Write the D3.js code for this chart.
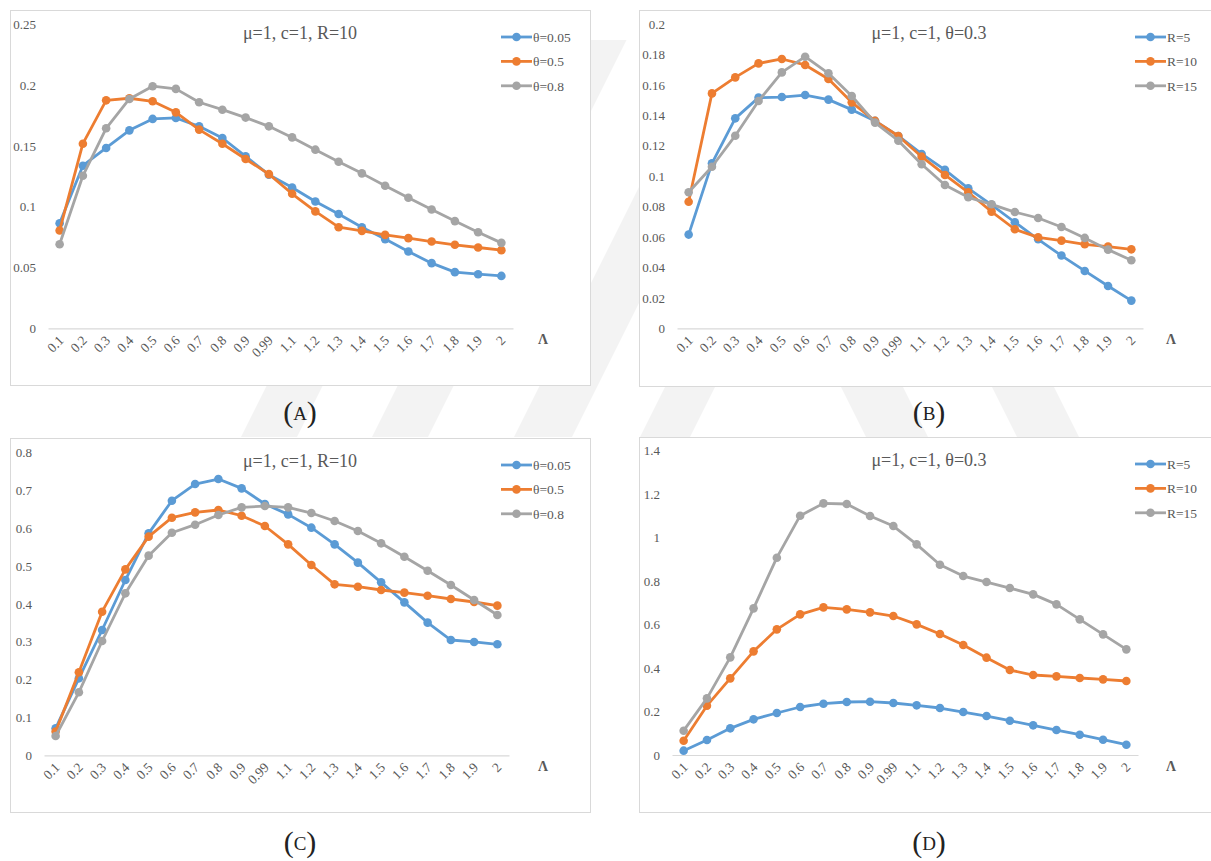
<!DOCTYPE html>
<html>
<head>
<meta charset="utf-8">
<script src="https://cdn.jsdelivr.net/npm/d3@7"></script>
<style>
  html, body { margin: 0; padding: 0; background: #fff; }
  svg { display: block; }
</style>
</head>
<body>
<svg id="fig" width="1211" height="861"></svg>
<script>
// Λ values shared by all four panels
const categories = ["0.1","0.2","0.3","0.4","0.5","0.6","0.7","0.8","0.9","0.99",
                    "1.1","1.2","1.3","1.4","1.5","1.6","1.7","1.8","1.9","2"];

const thetaNames = ["θ=0.05", "θ=0.5", "θ=0.8"];
const rNames = ["R=5", "R=10", "R=15"];

// y-axis tick values per panel
const ticksA = [0, 0.05, 0.1, 0.15, 0.2, 0.25];
const ticksB = [0, 0.02, 0.04, 0.06, 0.08, 0.1, 0.12, 0.14, 0.16, 0.18, 0.2];
const ticksC = [0, 0.1, 0.2, 0.3, 0.4, 0.5, 0.6, 0.7, 0.8];
const ticksD = [0, 0.2, 0.4, 0.6, 0.8, 1, 1.2, 1.4];

// (A) μ=1, c=1, R=10
const aTheta005 = [0.0865,0.1338,0.1484,0.1629,0.1723,0.1731,0.1662,0.1566,0.1415,0.1264,
                   0.1159,0.1044,0.0940,0.0832,0.0734,0.0632,0.0536,0.0462,0.0445,0.0431];
const aTheta05  = [0.0805,0.1519,0.1876,0.1893,0.1868,0.1777,0.1635,0.1519,0.1393,0.1269,
                   0.1107,0.0962,0.0832,0.0802,0.0769,0.0742,0.0714,0.0687,0.0665,0.0643];
const aTheta08  = [0.0692,0.1255,0.1646,0.1887,0.1992,0.1970,0.1860,0.1799,0.1734,0.1662,
                   0.1571,0.1470,0.1371,0.1275,0.1173,0.1074,0.0978,0.0882,0.0791,0.0703];

// (B) μ=1, c=1, θ=0.3
const bR5  = [0.0616,0.1084,0.1380,0.1516,0.1520,0.1533,0.1503,0.1437,0.1363,0.1264,
              0.1146,0.1041,0.0920,0.0811,0.0697,0.0585,0.0478,0.0377,0.0278,0.0182];
const bR10 = [0.0832,0.1544,0.1649,0.1741,0.1770,0.1731,0.1639,0.1485,0.1363,0.1264,
              0.1128,0.1008,0.0894,0.0767,0.0651,0.0598,0.0576,0.0552,0.0537,0.0519];
const bR15 = [0.0894,0.1062,0.1266,0.1494,0.1682,0.1785,0.1676,0.1527,0.1352,0.1233,
              0.1078,0.0942,0.0861,0.0815,0.0764,0.0725,0.0666,0.0594,0.0517,0.0447];

// (C) μ=1, c=1, R=10
const cTheta005 = [0.0714,0.2035,0.3313,0.4634,0.5868,0.6731,0.7172,0.7304,0.7057,0.6643,
                   0.6370,0.6018,0.5577,0.5093,0.4573,0.4044,0.3507,0.3048,0.2996,0.2934];
const cTheta05  = [0.0626,0.2194,0.3797,0.4916,0.5780,0.6282,0.6423,0.6485,0.6335,0.6062,
                   0.5577,0.5031,0.4520,0.4458,0.4370,0.4300,0.4220,0.4132,0.4053,0.3956];
const cTheta08  = [0.0511,0.1665,0.3022,0.4282,0.5278,0.5885,0.6097,0.6352,0.6555,0.6590,
                   0.6555,0.6405,0.6194,0.5930,0.5604,0.5251,0.4881,0.4502,0.4106,0.3709];

// (D) μ=1, c=1, θ=0.3
const dR5  = [0.0199,0.0690,0.1227,0.1641,0.1932,0.2208,0.2361,0.2438,0.2453,0.2392,
              0.2285,0.2162,0.1978,0.1794,0.1579,0.1365,0.1150,0.0935,0.0705,0.0475];
const dR10 = [0.0659,0.2269,0.3527,0.4769,0.5781,0.6471,0.6793,0.6701,0.6563,0.6394,
              0.6011,0.5566,0.5060,0.4478,0.3910,0.3680,0.3619,0.3542,0.3481,0.3404];
const dR15 = [0.1119,0.2607,0.4493,0.6747,0.9078,1.1010,1.1577,1.1547,1.0994,1.0534,
              0.9691,0.8756,0.8234,0.7958,0.7682,0.7391,0.6931,0.6241,0.5551,0.4861];

const seriesColors = ["#5B9BD5", "#ED7D31", "#A5A5A5"];
const textColor = "#595959";
const gridColor = "#d9d9d9";
const serif = "'Liberation Serif'";

const svg = d3.select("#fig");

// faint diagonal background emblem, visible only between the panels
const wm = svg.append("g").attr("fill", "#f3f3f3");
wm.append("clipPath").attr("id", "wmclip")
  .append("rect").attr("x", 0).attr("y", 40).attr("width", 1211).attr("height", 397);
const wmg = wm.append("g").attr("clip-path", "url(#wmclip)");
function stripe(cx, w, slope) {
  // parallelogram centred on (cx, 411), leaning by `slope` px of x per px of y
  const y1 = -100, y2 = 900, yc = 411;
  const xTop = cx + slope * (yc - y1), xBot = cx - slope * (y2 - yc);
  return [[xTop - w / 2, y1], [xTop + w / 2, y1], [xBot + w / 2, y2], [xBot - w / 2, y2]];
}
[[282, 56, 0.5], [413, 56, 0.5], [556, 58, 0.5], [678, 50, 0.5],
 [884, 62, -0.5], [1035, 62, -0.5]].forEach(([cx, w, s]) => {
  wmg.append("polygon").attr("points", stripe(cx, w, s).map(p => p.join(",")).join(" "));
});

const panels = [
  { box: [10, 10, 590, 385], xr: [48, 513], yr: [328.3, 24.5], ticks: ticksA,
    title: "μ=1, c=1, R=10", titleX: 300, names: thetaNames, data: [aTheta005, aTheta05, aTheta08],
    legendX: 501, lambdaX: 543, caption: "A", capX: 300, capY: 413 },
  { box: [639, 10, 1222, 386], xr: [677, 1143], yr: [328.3, 24], ticks: ticksB,
    title: "μ=1, c=1, θ=0.3", titleX: 929, names: rNames, data: [bR5, bR10, bR15],
    legendX: 1135, lambdaX: 1171, caption: "B", capX: 929, capY: 413 },
  { box: [10, 438, 590, 812], xr: [44, 509], yr: [755.3, 452.7], ticks: ticksC,
    title: "μ=1, c=1, R=10", titleX: 300, names: thetaNames, data: [cTheta005, cTheta05, cTheta08],
    legendX: 501, lambdaX: 543, caption: "C", capX: 300, capY: 843 },
  { box: [639, 437, 1222, 812], xr: [672, 1138], yr: [755, 450.7], ticks: ticksD,
    title: "μ=1, c=1, θ=0.3", titleX: 929, names: rNames, data: [dR5, dR10, dR15],
    legendX: 1135, lambdaX: 1171, caption: "D", capX: 929, capY: 843 }
];

function styleText(sel, size) {
  return sel.style("font-family", serif).style("font-size", size + "px");
}

panels.forEach(p => {
  const g = svg.append("g");
  const [bx0, by0, bx1, by1] = p.box;

  // chart frame
  g.append("rect")
    .attr("x", bx0 + 0.5).attr("y", by0 + 0.5)
    .attr("width", bx1 - bx0).attr("height", by1 - by0)
    .attr("fill", "#fff").attr("stroke", gridColor).attr("stroke-width", 1);

  const x = d3.scaleBand().domain(categories).range(p.xr);
  const cx = d => x(d) + x.bandwidth() / 2;
  const y = d3.scaleLinear().domain([0, d3.max(p.ticks)]).range(p.yr);

  // category axis
  const xAxis = g.append("g").attr("transform", `translate(0,${p.yr[0]})`)
    .call(d3.axisBottom(x).tickSize(0).tickPadding(0));
  xAxis.attr("font-family", null).attr("font-size", null);
  xAxis.select(".domain").attr("stroke", gridColor).attr("stroke-width", 1.2);
  styleText(xAxis.selectAll(".tick text"), 13.5)
    .attr("fill", textColor)
    .attr("text-anchor", "end")
    .attr("dy", 0)
    .attr("y", 0)
    .attr("transform", "translate(5,13) rotate(-45)");

  // value axis: labels only
  const yAxis = g.append("g").attr("transform", `translate(${p.xr[0]},0)`)
    .call(d3.axisLeft(y).tickValues(p.ticks).tickSize(0).tickPadding(12)
      .tickFormat(v => String(+v.toFixed(2))));
  yAxis.attr("font-family", null).attr("font-size", null);
  yAxis.select(".domain").remove();
  styleText(yAxis.selectAll(".tick text"), 13).attr("fill", textColor);

  // axis name
  styleText(g.append("text"), 14)
    .attr("x", p.lambdaX).attr("y", p.yr[0] + 16)
    .attr("text-anchor", "middle").attr("font-weight", "bold")
    .attr("fill", textColor).text("Λ");

  // title
  styleText(g.append("text"), 18)
    .attr("x", p.titleX).attr("y", by0 + 29)
    .attr("text-anchor", "middle").attr("fill", textColor)
    .text(p.title);

  // series
  const line = d3.line().x((d, i) => cx(categories[i])).y(d => y(d));
  p.data.forEach((vals, si) => {
    const sg = g.append("g");
    sg.append("path").datum(vals).attr("d", line)
      .attr("fill", "none").attr("stroke", seriesColors[si])
      .attr("stroke-width", 2.8).attr("stroke-linejoin", "round").attr("stroke-linecap", "round");
    sg.selectAll("circle").data(vals).join("circle")
      .attr("cx", (d, i) => cx(categories[i])).attr("cy", d => y(d))
      .attr("r", 4.3).attr("fill", seriesColors[si]);
  });

  // legend
  p.names.forEach((name, i) => {
    const ly = by0 + 27 + 24.4 * i;
    const lg = g.append("g");
    lg.append("line").attr("x1", p.legendX).attr("x2", p.legendX + 31)
      .attr("y1", ly).attr("y2", ly)
      .attr("stroke", seriesColors[i]).attr("stroke-width", 2.8);
    lg.append("circle").attr("cx", p.legendX + 15.5).attr("cy", ly).attr("r", 4.3)
      .attr("fill", seriesColors[i]);
    styleText(lg.append("text"), 13.5)
      .attr("x", p.legendX + 32).attr("y", ly).attr("dy", "0.35em")
      .attr("fill", textColor).text(name);
  });

  // sub-figure caption
  const cap = svg.append("text").attr("x", p.capX).attr("y", p.capY + 9)
    .attr("text-anchor", "middle")
    .style("font-family", serif)
    .attr("fill", "#222");
  cap.append("tspan").style("font-size", "30px").text("(");
  cap.append("tspan").style("font-size", "19px").attr("dy", -2).text(p.caption);
  cap.append("tspan").style("font-size", "30px").attr("dy", 2).text(")");
});
</script>
</body>
</html>
